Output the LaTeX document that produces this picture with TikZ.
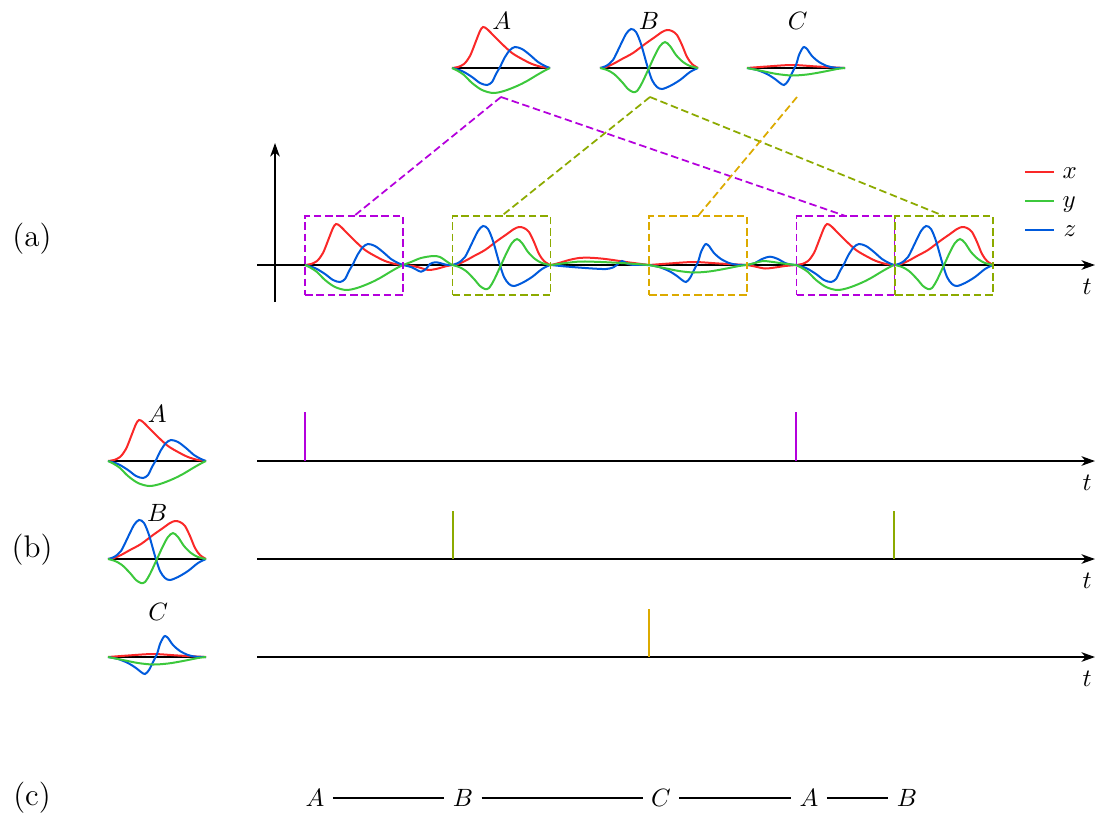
\documentclass[tikz,border=0pt]{standalone}
\usetikzlibrary{arrows.meta}
\definecolor{cx}{RGB}{250,40,40}
\definecolor{cy}{RGB}{60,200,60}
\definecolor{cz}{RGB}{0,90,220}
\definecolor{cpurple}{RGB}{180,0,220}
\definecolor{colive}{RGB}{140,170,0}
\definecolor{cgold}{RGB}{220,170,0}
\tikzset{
 xcurve/.style={cx, line width=0.8pt},
 ycurve/.style={cy, line width=0.8pt},
 zcurve/.style={cz, line width=0.8pt},
 baseln/.style={black, line width=0.8pt},
 axisline/.style={black, line width=0.85pt, -{Stealth[length=5.4pt,width=3.8pt,inset=1.6pt]}},
 segbox/.style={draw, dash pattern=on 3pt off 1.5pt, line width=0.7pt, inner sep=0pt, outer sep=0pt, minimum width=98*0.4pt, minimum height=79*0.4pt},
 link/.style={dash pattern=on 3pt off 1.5pt, line width=0.7pt},
 spike/.style={line width=0.6pt},
 lab/.style={font=\fontsize{10}{12}\selectfont, inner sep=0pt},
 part/.style={font=\fontsize{12.5}{15}\selectfont, inner sep=0pt},
 seq/.style={font=\fontsize{10}{12}\selectfont, inner sep=3.2pt},
 legline/.style={line width=0.55pt},
}
\newcommand\wavA{%
 \draw[xcurve] plot[smooth] coordinates {(0,0)(6,1)(12,4)(18,12)(24,27)(28,37)(31,41)(35,39)(42,32)(50,24)(60,15)(70,9)(80,4)(90,1)(98,0)};
 \draw[zcurve] plot[smooth] coordinates {(0,0)(10,-3)(20,-9)(28,-15)(35,-17)(40,-14)(44,-6)(48,1)(53,11)(58,18)(63,21)(70,19)(78,13)(86,6)(93,2)(98,0)};
 \draw[ycurve] plot[smooth] coordinates {(0,0)(6,-3)(12,-7)(20,-15)(30,-22)(41,-25)(52,-23)(65,-18)(75,-13)(85,-7)(92,-3)(98,0)};
}
\newcommand\wavB{%
 \draw[xcurve] plot[smooth] coordinates {(0,0)(6,1)(13,4)(22,9)(33,15)(45,24)(55,31)(62,36)(67,38)(72,37)(77,33)(82,23)(87,11)(92,4)(98,0)};
 \draw[zcurve] plot[smooth] coordinates {(0,0)(6,2)(13,8)(20,22)(26,34)(31,39)(36,36)(41,24)(47,3)(52,-12)(57,-19)(62,-21)(70,-18)(80,-12)(90,-4)(98,0)};
 \draw[ycurve] plot[smooth] coordinates {(0,0)(7,-2)(14,-6)(22,-14)(28,-21)(33,-24)(37,-23)(42,-15)(49,0)(55,13)(60,22)(65,26)(70,22)(76,13)(83,6)(90,2)(98,0)};
}
\newcommand\wavC{%
 \draw[xcurve] plot[smooth] coordinates {(0,0)(20,1.5)(45,3)(70,1.5)(98,0)};
 \draw[zcurve] plot[smooth] coordinates {(0,0)(10,-2)(20,-6)(28,-11)(33,-15)(37,-17)(41,-13)(45,-5)(49,3)(52,13)(55,19)(57,21)(60,19)(65,12)(72,6)(80,2)(88,0.3)(98,0)};
 \draw[ycurve] plot[smooth] coordinates {(0,0)(15,-3)(30,-6)(45,-7.5)(60,-6.5)(75,-4)(90,-1)(98,0)};
}
\newcommand\gapOne{%
 \draw[xcurve] plot[smooth] coordinates {(0,0)(10,-1)(18,-3)(25,-5)(33,-4)(42,-1.5)(49,0)};
 \draw[zcurve] plot[smooth] coordinates {(0,0)(8,-2)(14,-5)(18,-6.7)(23,-4)(27,1)(32,2.7)(37,2)(43,0.3)(49,0)};
 \draw[ycurve] plot[smooth] coordinates {(0,0)(8,3)(18,7)(30,9)(37,8)(43,4)(49,0)};
}
\newcommand\gapTwo{%
 \draw[xcurve] plot[smooth] coordinates {(0,0)(8,2)(18,5)(28,7)(38,7.3)(50,6.5)(62,5)(75,3)(88,1.3)(98,0)};
 \draw[zcurve] plot[smooth] coordinates {(0,0)(15,-1.5)(30,-2.7)(45,-3.7)(55,-4)(62,-2.5)(67,1)(71,4)(75,2)(80,0.3)(98,0)};
 \draw[ycurve] plot[smooth] coordinates {(0,0)(15,2)(30,3.5)(50,3)(70,2)(85,1)(98,0)};
}
\newcommand\gapThree{%
 \draw[xcurve] plot[smooth] coordinates {(0,0)(8,-1.5)(18,-3.5)(28,-2.5)(38,-1)(49,0)};
 \draw[zcurve] plot[smooth] coordinates {(0,0)(8,2)(15,6)(23,8.3)(31,6)(38,2)(44,0.5)(49,0)};
 \draw[ycurve] plot[smooth] coordinates {(0,0)(8,2)(16,4)(26,3)(36,1.5)(49,0)};
}
\newcommand\putwav[3]{\begin{scope}[shift={(#1,#2)},yscale=-1]#3\end{scope}}
\newcommand\putwavb[3]{\begin{scope}[shift={(#1,#2)},yscale=-1]\draw[baseln] (0,0) -- (98,0);#3\end{scope}}
\begin{document}
\begin{tikzpicture}[x=0.4pt,y=-0.4pt]
\useasboundingbox (0,0) rectangle (1097,814);

% ---------- top wavelets
\putwavb{452}{68}{\wavA}
\putwavb{600}{68}{\wavB}
\putwavb{747}{68}{\wavC}
\node[lab, anchor=base] (lA) at (501.7,29.3) {$A$};
\node[lab, anchor=base] (lB) at (649,29.3) {$B$};
\node[lab, anchor=base] (lC) at (797.7,29.3) {$C$};
\coordinate (tA) at (501,97);
\coordinate (tB) at (650,97);
\coordinate (tC) at (797,97);

% ---------- (a)
\node[part] (pa) at (32,239) {(a)};
\coordinate (ha0) at (257,265);
\coordinate (ha1) at (1095,265);
\coordinate (va0) at (275,302);
\coordinate (va1) at (275,143);
\draw[axisline] (ha0) -- (ha1);
\draw[axisline] (va0) -- (va1);
\node[lab] (ta) at (1087,286.5) {$t$};

\putwav{305}{265}{\wavA}
\putwav{403}{265}{\gapOne}
\putwav{452}{265}{\wavB}
\putwav{551}{265}{\gapTwo}
\putwav{649}{265}{\wavC}
\putwav{747}{265}{\gapThree}
\putwav{796}{265}{\wavA}
\putwav{895}{265}{\wavB}

\node[segbox, draw=cpurple] (b1) at (354,255.5) {};
\node[segbox, draw=colive] (b2) at (501.5,255.5) {};
\node[segbox, draw=cgold] (b3) at (698,255.5) {};
\node[segbox, draw=cpurple] (b4) at (845.5,255.5) {};
\node[segbox, draw=colive] (b5) at (944,255.5) {};

\draw[link, cpurple] (tA) -- (b1.north);
\draw[link, cpurple] (tA) -- (b4.north);
\draw[link, colive] (tB) -- (b2.north);
\draw[link, colive] (tB) -- (b5.north);
\draw[link, cgold] (tC) -- (b3.north);

% legend
\coordinate (lx0) at (1025,172); \coordinate (lx1) at (1054,172);
\coordinate (ly0) at (1025,201); \coordinate (ly1) at (1054,201);
\coordinate (lz0) at (1025,230); \coordinate (lz1) at (1054,230);
\draw[legline, cx] (lx0) -- (lx1);
\draw[legline, cy] (ly0) -- (ly1);
\draw[legline, cz] (lz0) -- (lz1);
\node[lab, anchor=base west] (gx) at (1062,178) {$x$};
\node[lab, anchor=base west] (gy) at (1062,207) {$y$};
\node[lab, anchor=base west] (gz) at (1063,236) {$z$};

% ---------- (b)
\node[part] (pb) at (32,550) {(b)};
\putwavb{108}{461}{\wavA}
\putwavb{108}{559}{\wavB}
\putwavb{108}{657}{\wavC}
\node[lab, anchor=base] (bA) at (157.3,422.7) {$A$};
\node[lab, anchor=base] (bB) at (157.3,521.7) {$B$};
\node[lab, anchor=base] (bC) at (158.3,620) {$C$};

\coordinate (h10) at (257,461); \coordinate (h11) at (1095,461);
\coordinate (h20) at (257,559); \coordinate (h21) at (1095,559);
\coordinate (h30) at (257,657); \coordinate (h31) at (1095,657);
\draw[axisline] (h10) -- (h11);
\draw[axisline] (h20) -- (h21);
\draw[axisline] (h30) -- (h31);
\node[lab] (t1) at (1087,483) {$t$};
\node[lab] (t2) at (1087,581) {$t$};
\node[lab] (t3) at (1087,679) {$t$};

\coordinate (s1a) at (305,412); \coordinate (s1b) at (305,461);
\coordinate (s4a) at (796,412); \coordinate (s4b) at (796,461);
\coordinate (s2a) at (453,511); \coordinate (s2b) at (453,559);
\coordinate (s5a) at (894,511); \coordinate (s5b) at (894,559);
\coordinate (s3a) at (649,609); \coordinate (s3b) at (649,657);
\draw[spike, cpurple] (s1a) -- (s1b);
\draw[spike, cpurple] (s4a) -- (s4b);
\draw[spike, colive] (s2a) -- (s2b);
\draw[spike, colive] (s5a) -- (s5b);
\draw[spike, cgold] (s3a) -- (s3b);

% ---------- (c)
\node[part] (pc) at (32,798) {(c)};
\node[seq] (c1) at (315,798) {$A$};
\node[seq] (c2) at (463,798) {$B$};
\node[seq] (c3) at (661,798) {$C$};
\node[seq] (c4) at (809,798) {$A$};
\node[seq] (c5) at (907,798) {$B$};
\draw[line width=0.5pt] (c1) -- (c2);
\draw[line width=0.5pt] (c2) -- (c3);
\draw[line width=0.5pt] (c3) -- (c4);
\draw[line width=0.5pt] (c4) -- (c5);
\end{tikzpicture}
\end{document}
